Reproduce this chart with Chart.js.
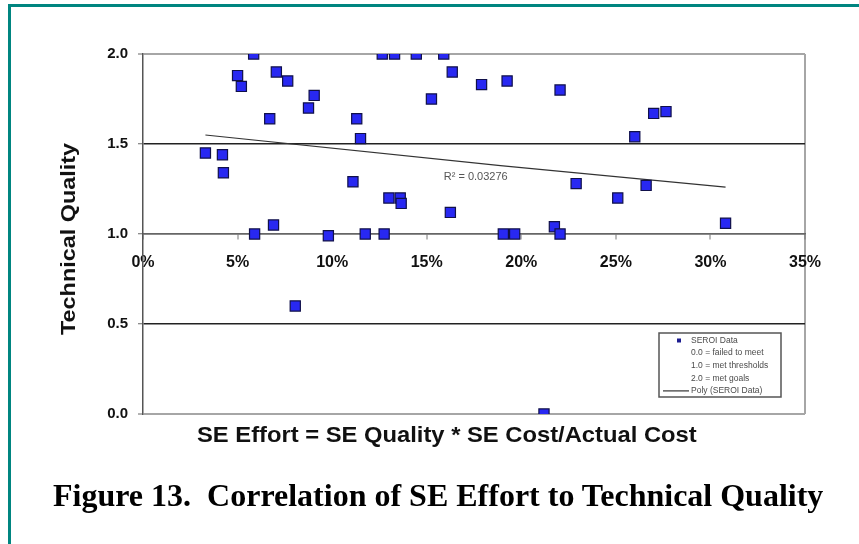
<!DOCTYPE html>
<html>
<head>
<meta charset="utf-8">
<script src="https://cdn.jsdelivr.net/npm/chart.js@4.4.8/dist/chart.umd.min.js"></script>
<style>
  html, body { margin: 0; padding: 0; background: #fff; }
  #page { position: relative; width: 859px; height: 544px; overflow: hidden; }
  #frame { position: absolute; left: 8px; top: 4px; width: 900px; height: 600px;
           border-top: 3px solid #008580; border-left: 3px solid #008580; }
  #chart { position: absolute; left: 0; top: 0; }
  .ytitle { position: absolute; left: 68px; top: 239px; transform: translate(-50%, -50%) rotate(-90deg) scaleX(1.17);
            font: bold 20px "Liberation Sans", Arial, sans-serif; line-height: 20px;
            white-space: nowrap; color: #111; }
  .xtitle { position: absolute; left: 197px; top: 424px; transform: scaleX(1.08); transform-origin: left top;
            font: bold 22px "Liberation Sans", Arial, sans-serif;
            line-height: 22px; white-space: nowrap; color: #111; }
  .caption { position: absolute; left: 53px; top: 479px; font: bold 32px "Liberation Serif", "Times New Roman", serif;
             line-height: 32px; white-space: nowrap; color: #000; }
</style>
</head>
<body>
<div id="page">
  <div id="frame"></div>
  <canvas id="chart" width="859" height="544"></canvas>
  <div class="ytitle">Technical Quality</div>
  <div class="xtitle">SE Effort = SE Quality * SE Cost/Actual Cost</div>
  <div class="caption">Figure 13.&nbsp; Correlation of SE Effort to Technical Quality</div>
</div>
<script>
// SE effort (%) and technical quality per program
const seEffort = [3.3, 4.2, 4.25, 5.0, 5.2, 5.85, 5.9, 6.7, 6.9, 7.05, 7.65, 8.05, 8.75, 9.05, 9.8,
  11.1, 11.3, 11.5, 11.75, 12.65, 12.75, 13.0, 13.3, 13.6, 13.65, 14.45, 15.25, 15.9, 16.25, 16.35,
  17.9, 19.05, 19.25, 19.65, 21.2, 21.75, 22.05, 22.05, 22.9, 25.1, 26.0, 26.6, 27.0, 27.65, 30.8];
const techQuality = [1.45, 1.44, 1.34, 1.88, 1.82, 2.0, 1.0, 1.64, 1.05, 1.90, 1.85, 0.6, 1.70, 1.77, 0.99,
  1.29, 1.64, 1.53, 1.0, 2.0, 1.0, 1.20, 2.0, 1.20, 1.17, 2.0, 1.75, 2.0, 1.12, 1.90,
  1.83, 1.0, 1.85, 1.0, 0.0, 1.04, 1.0, 1.80, 1.28, 1.20, 1.54, 1.27, 1.67, 1.68, 1.06];

// trend line as drawn (start, middle, end)
const trendX = [3.3, 18.9, 30.8];
const trendY = [1.55, 1.38, 1.26];

const xTicks = [0, 5, 10, 15, 20, 25, 30, 35];
const yTicks = [0, 0.5, 1.0, 1.5, 2.0];
const rSquared = 'R\u00B2 = 0.03276';
const legendLines = ['SEROI Data', '0.0 = failed to meet', '1.0 = met thresholds', '2.0 = met goals', 'Poly (SEROI Data)'];

const points = seEffort.map((x, i) => ({ x: x, y: techQuality[i] }));
const trend = trendX.map((x, i) => ({ x: x, y: trendY[i] }));

const sans = '"Liberation Sans", Arial, sans-serif';

// R² text and the boxed legend inside the plot
const extras = {
  id: 'extras',
  afterDraw(chart) {
    const c = chart.ctx;
    const xs = chart.scales.x, ys = chart.scales.y, area = chart.chartArea;
    c.save();
    c.font = '11px ' + sans;
    c.fillStyle = '#555';
    c.textBaseline = 'alphabetic';
    c.fillText(rSquared, xs.getPixelForValue(15.9), ys.getPixelForValue(1.30));

    const w = 122, h = 64;
    const bx = area.right - 24 - w, by = area.bottom - 17 - h;
    c.fillStyle = '#fff';
    c.fillRect(bx, by, w, h);
    c.strokeStyle = '#555';
    c.lineWidth = 1.5;
    c.strokeRect(bx, by, w, h);
    c.font = '8.5px ' + sans;
    c.textBaseline = 'middle';
    legendLines.forEach((t, i) => {
      const ty = by + 7.5 + i * 12.6;
      c.fillStyle = '#4a4a4a';
      c.fillText(t, bx + 32, ty);
      if (i === 0) {
        c.fillStyle = '#1c1c90';
        c.fillRect(bx + 18, ty - 2, 4, 4);
      }
      if (i === legendLines.length - 1) {
        c.strokeStyle = '#333';
        c.lineWidth = 1.2;
        c.beginPath();
        c.moveTo(bx + 4, ty);
        c.lineTo(bx + 30, ty);
        c.stroke();
      }
    });
    c.restore();
  }
};

new Chart(document.getElementById('chart'), {
  type: 'scatter',
  data: {
    datasets: [
      {
        label: 'SEROI Data',
        data: points,
        pointStyle: 'rect',
        pointRadius: 7.2,
        backgroundColor: '#2828f2',
        borderColor: '#10104a',
        borderWidth: 1.2,
        order: 0
      },
      {
        type: 'line',
        label: 'Poly (SEROI Data)',
        data: trend,
        borderColor: '#333',
        borderWidth: 1.2,
        pointRadius: 0,
        fill: false,
        order: 1
      }
    ]
  },
  options: {
    responsive: false,
    animation: false,
    layout: { padding: { left: 93, right: 54, top: 54, bottom: 130 } },
    plugins: { legend: { display: false }, tooltip: { enabled: false } },
    scales: {
      x: {
        type: 'linear',
        min: 0, max: 35,
        position: { y: 1 },
        afterBuildTicks: s => { s.ticks = xTicks.map(v => ({ value: v })); },
        afterFit: s => { s.height = 0; },
        ticks: {
          callback: v => v + '%',
          font: { family: sans, size: 16, weight: 'bold' },
          color: '#111',
          padding: 14,
          maxRotation: 0
        },
        grid: {
          color: ctx => (ctx.tick && ctx.tick.value === 35) ? '#a6a6a6' : 'rgba(0,0,0,0)',
          lineWidth: 2,
          tickColor: '#777',
          tickWidth: 1,
          tickLength: 5
        },
        border: { color: '#666', width: 1.5 }
      },
      y: {
        min: 0, max: 2,
        afterBuildTicks: s => { s.ticks = yTicks.map(v => ({ value: v })); },
        afterFit: s => { s.width = 50; },
        ticks: {
          callback: v => v.toFixed(1),
          font: { family: sans, size: 15, weight: 'bold' },
          color: '#111',
          padding: 10
        },
        grid: {
          color: ctx => {
            const v = ctx.tick ? ctx.tick.value : null;
            if (v === 2 || v === 0) return '#a6a6a6';
            if (v === 1) return '#666';
            return '#222';
          },
          lineWidth: ctx => {
            const v = ctx.tick ? ctx.tick.value : null;
            return (v === 2 || v === 0) ? 2 : 1.5;
          },
          tickColor: '#666',
          tickWidth: 1,
          tickLength: 5
        },
        border: { color: '#555', width: 1.5 }
      }
    }
  },
  plugins: [extras]
});
</script>
</body>
</html>
